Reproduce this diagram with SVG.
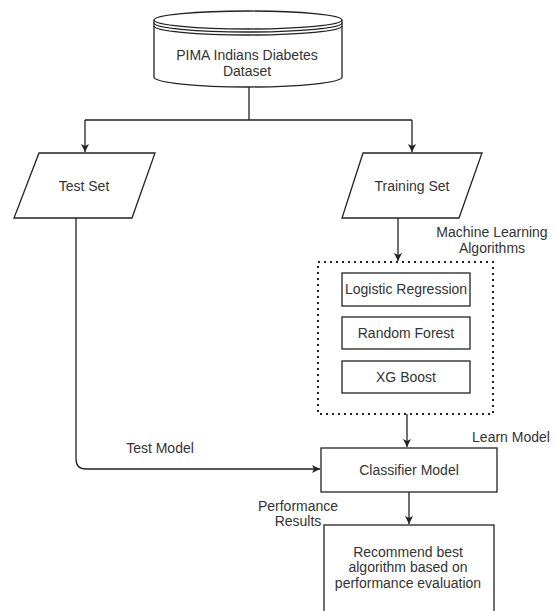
<svg xmlns="http://www.w3.org/2000/svg" width="556" height="611" viewBox="0 0 556 611">
<style>
.s{fill:#fff;stroke:#222;stroke-width:1.3}
.t{font-family:"Liberation Sans",Arial,sans-serif;font-size:14px;fill:#333;text-anchor:middle}
.c{fill:none;stroke:#222;stroke-width:1.3}
</style>
<defs>
<marker id="ah" markerWidth="10" markerHeight="10" refX="9" refY="5" orient="auto" markerUnits="userSpaceOnUse">
<path d="M1,1 L9,5 L1,9 L3,5 Z" fill="#222"/>
</marker>
</defs>
<rect width="556" height="611" fill="#fff"/>
<g id="connectors">
<path class="c" d="M249,87 V120 M85,120 H412"/>
<path class="c" d="M85,120 V152" marker-end="url(#ah)"/>
<path class="c" d="M412,120 V152" marker-end="url(#ah)"/>
<path class="c" d="M398,218 V261" marker-end="url(#ah)"/>
<path class="c" d="M407,414 V447" marker-end="url(#ah)"/>
<path class="c" d="M76,218 V459 Q76,469 86,469 H320" marker-end="url(#ah)"/>
<path class="c" d="M409,492 V524" marker-end="url(#ah)"/>
</g>
<g id="dataset">
<path class="s" d="M154,20 V77 A94,10 0 0 0 342,77 V20"/>
<ellipse class="s" cx="248" cy="20" rx="94" ry="9"/>
<path class="c" d="M154,23 A94,9 0 0 0 342,23 M154,26 A94,9 0 0 0 342,26"/>
<text class="t" x="247" y="60">PIMA Indians Diabetes</text>
<text class="t" x="247" y="76">Dataset</text>
</g>
<g id="testset">
<polygon class="s" points="39,153 155,153 132,218 14,218"/>
<text class="t" x="84" y="191">Test Set</text>
</g>
<g id="trainingset">
<polygon class="s" points="363,153 482,153 459,218 342,218"/>
<text class="t" x="412" y="191">Training Set</text>
</g>
<g id="ml-label">
<text class="t" x="492" y="237">Machine Learning</text>
<text class="t" x="492" y="253">Algorithms</text>
</g>
<g id="algorithms">
<rect x="318" y="262" width="175" height="152" fill="none" stroke="#222" stroke-width="2" stroke-dasharray="2,4"/>
</g>
<g id="logistic">
<rect class="s" x="342" y="273" width="128" height="33"/>
<text class="t" x="406" y="294">Logistic Regression</text>
</g>
<g id="randomforest">
<rect class="s" x="342" y="317" width="128" height="32"/>
<text class="t" x="406" y="338">Random Forest</text>
</g>
<g id="xgboost">
<rect class="s" x="342" y="361" width="128" height="32"/>
<text class="t" x="406" y="382">XG Boost</text>
</g>
<g id="classifier">
<rect class="s" x="321" y="448" width="176" height="44"/>
<text class="t" x="409" y="475">Classifier Model</text>
</g>
<g id="labels">
<text class="t" x="160" y="453">Test Model</text>
<text class="t" x="511" y="442">Learn Model</text>
<text class="t" x="298" y="511">Performance</text>
<text class="t" x="298" y="526">Results</text>
</g>
<g id="recommend">
<rect class="s" x="324" y="525" width="170" height="100"/>
<text class="t" x="408" y="557">Recommend best</text>
<text class="t" x="408" y="572">algorithm based on</text>
<text class="t" x="408" y="588">performance evaluation</text>
</g>
</svg>
